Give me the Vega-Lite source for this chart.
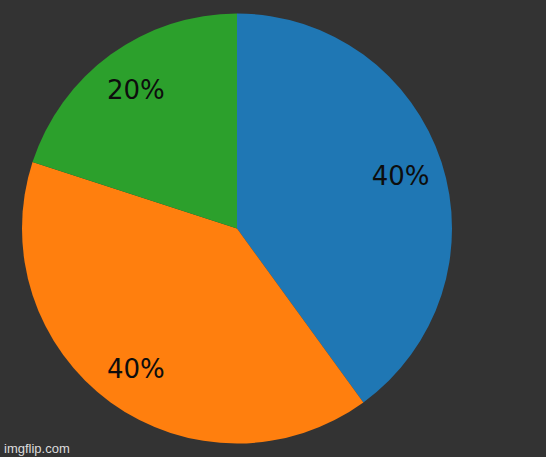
{
  "$schema": "https://vega.github.io/schema/vega-lite/v6.json",
  "width": 474,
  "height": 457,
  "autosize": "none",
  "padding": {"left": 0, "top": 0, "right": 72, "bottom": 0},
  "background": "#333333",
  "view": {"stroke": null},
  "title": {
    "text": "imgflip.com",
    "orient": "bottom",
    "anchor": "start",
    "frame": "group",
    "offset": -14,
    "font": "Liberation Sans",
    "fontSize": 13,
    "fontWeight": "normal",
    "color": "#dddddd",
    "dx": 4
  },
  "data": {
    "values": [
      {"slice": "A", "idx": 1, "value": 40, "label": "40%"},
      {"slice": "B", "idx": 2, "value": 40, "label": "40%"},
      {"slice": "C", "idx": 3, "value": 20, "label": "20%"}
    ]
  },
  "encoding": {
    "theta": {"field": "value", "type": "quantitative", "stack": true},
    "order": {"field": "idx", "type": "quantitative"},
    "color": {
      "field": "slice",
      "type": "nominal",
      "scale": {"domain": ["A", "B", "C"], "range": ["#1f77b4", "#ff7f0e", "#2ca02c"]},
      "legend": null
    }
  },
  "layer": [
    {"mark": {"type": "arc", "outerRadius": 215}},
    {
      "mark": {"type": "text", "radius": 172, "dy": 2, "font": "DejaVu Sans", "fontSize": 26, "fill": "#0d0d0d"},
      "encoding": {
        "text": {"field": "label", "type": "nominal"},
        "color": {"value": "#0d0d0d"}
      }
    }
  ]
}
